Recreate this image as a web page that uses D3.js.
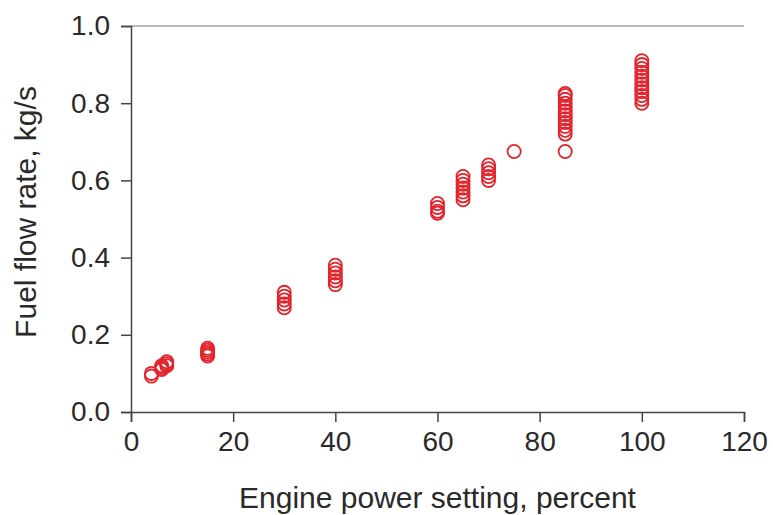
<!DOCTYPE html>
<html>
<head>
<meta charset="utf-8">
<script src="https://cdn.jsdelivr.net/npm/d3@7"></script>
<style>
  body { margin: 0; background: #fff; }
  svg text { font-family: "Liberation Sans", Arial, sans-serif; fill: #2a2a2a; }
</style>
</head>
<body>
<svg id="chart"></svg>
<script>
// power settings (percent) and the fuel flow readings taken at each one
var settings = [4, 6, 7, 15, 30, 40, 60, 65, 70, 75, 85, 100];
var fuel4 = [0.093, 0.10];
var fuel6 = [0.11, 0.115, 0.12];
var fuel7 = [0.12, 0.125, 0.13];
var fuel15 = [0.145, 0.15, 0.155, 0.16, 0.165];
var fuel30 = [0.27, 0.28, 0.29, 0.30, 0.31];
var fuel40 = [0.33, 0.34, 0.35, 0.36, 0.37, 0.38];
var fuel60 = [0.515, 0.52, 0.53, 0.54];
var fuel65 = [0.55, 0.56, 0.57, 0.58, 0.59, 0.60, 0.61];
var fuel70 = [0.60, 0.61, 0.62, 0.63, 0.64];
var fuel75 = [0.675];
var fuel85 = [0.675, 0.72, 0.73, 0.74, 0.75, 0.76, 0.77, 0.78, 0.79, 0.80, 0.81, 0.82, 0.825];
var fuel100 = [0.80, 0.81, 0.82, 0.83, 0.84, 0.85, 0.86, 0.87, 0.88, 0.89, 0.90, 0.91];

var xTicks = [0, 20, 40, 60, 80, 100, 120];
var yTicks = [0.0, 0.2, 0.4, 0.6, 0.8, 1.0];

var readings = [fuel4, fuel6, fuel7, fuel15, fuel30, fuel40, fuel60, fuel65, fuel70, fuel75, fuel85, fuel100];

var points = [];
for (var i = 0; i < settings.length; i++) {
    for (var j = 0; j < readings[i].length; j++) {
        points.push({ power: settings[i], fuel: readings[i][j] });
    }
}

var totalWidth = 773,
    totalHeight = 515;

var margin = { top: 26, right: 29, bottom: 103, left: 131 },
    width = totalWidth - margin.left - margin.right,
    height = totalHeight - margin.top - margin.bottom;

var svg = d3.select("#chart")
    .attr("width", totalWidth)
    .attr("height", totalHeight)
    .append("g")
    .attr("transform", "translate(" + margin.left + "," + margin.top + ")");

var x = d3.scaleLinear().domain([0, 120]).range([0, width]);
var y = d3.scaleLinear().domain([0, 1]).range([height, 0]);

var xAxis = d3.axisBottom(x).tickValues(xTicks).tickSize(10).tickPadding(9).tickFormat(d3.format("d"));
var yAxis = d3.axisLeft(y).tickValues(yTicks).tickSize(10).tickPadding(11).tickFormat(d3.format(".1f"));

// light frame line along the top
svg.append("line")
    .attr("x1", 0).attr("x2", width)
    .attr("y1", 0).attr("y2", 0)
    .attr("stroke", "#a0a0a0")
    .attr("stroke-width", 1.5);

var gx = svg.append("g")
    .attr("class", "x axis")
    .attr("transform", "translate(0," + height + ")")
    .call(xAxis);

var gy = svg.append("g")
    .attr("class", "y axis")
    .call(yAxis);

[gx, gy].forEach(function(g) {
    g.select(".domain").attr("stroke", "#444").attr("stroke-width", 1.5);
    g.selectAll(".tick line").attr("stroke", "#444").attr("stroke-width", 1.5);
    g.selectAll(".tick text").style("font-size", "28px").attr("fill", "#2a2a2a");
});

svg.selectAll(".dot")
    .data(points)
    .enter().append("circle")
    .attr("class", "dot")
    .attr("cx", function(d) { return x(d.power); })
    .attr("cy", function(d) { return y(d.fuel); })
    .attr("r", 6.6)
    .attr("fill", "none")
    .attr("stroke", "#e3232b")
    .attr("stroke-width", 1.8);

svg.append("text")
    .attr("class", "label")
    .attr("x", width / 2)
    .attr("y", height + 96)
    .style("text-anchor", "middle")
    .style("font-size", "30px")
    .text("Engine power setting, percent");

svg.append("text")
    .attr("class", "label")
    .attr("transform", "rotate(-90)")
    .attr("x", -(height / 2) + 7)
    .attr("y", -95)
    .style("text-anchor", "middle")
    .style("font-size", "30px")
    .text("Fuel flow rate, kg/s");
</script>
</body>
</html>
